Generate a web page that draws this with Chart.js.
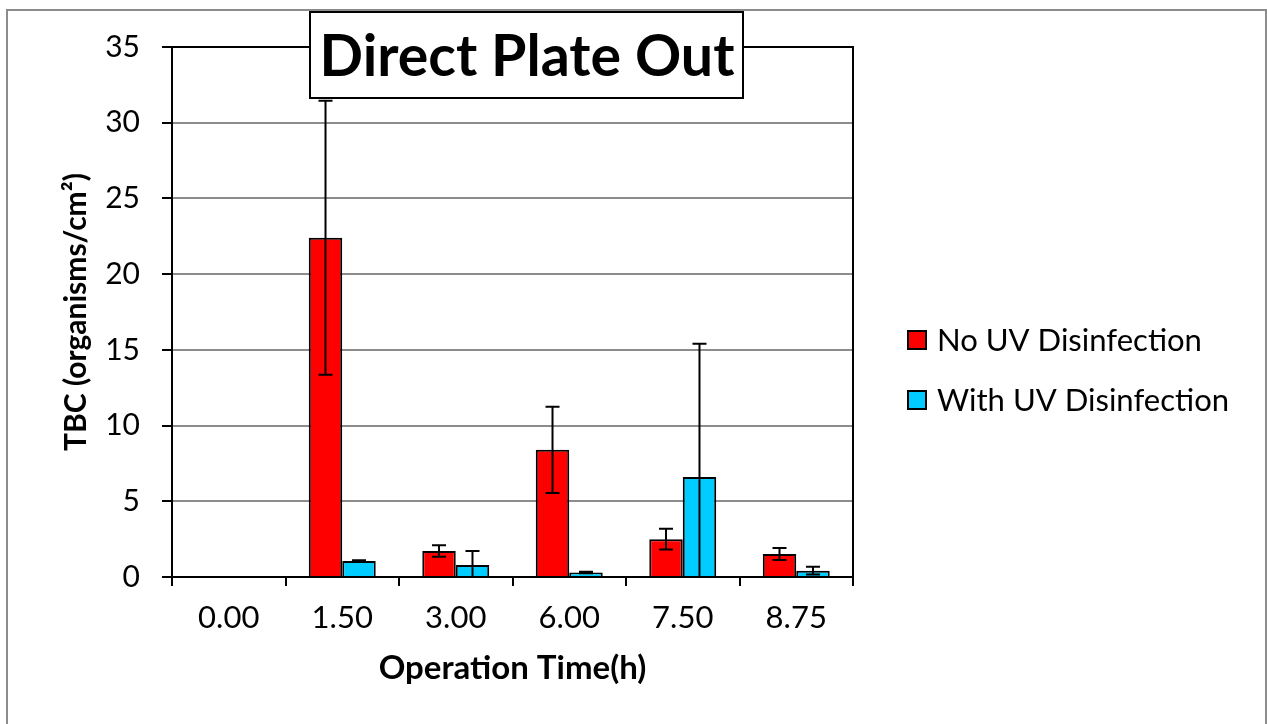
<!DOCTYPE html>
<html>
<head>
<meta charset="utf-8">
<script src="https://cdn.jsdelivr.net/npm/chart.js@4.4.0/dist/chart.umd.min.js"></script>
<style>
  body { margin: 0; background: #fff; }
</style>
</head>
<body>
<canvas id="myChart" width="1267" height="724"></canvas>
<script>
const ctx = document.getElementById('myChart');

// data
const categories = ['0.00', '1.50', '3.00', '6.00', '7.50', '8.75'];
const noUV = [0, 22.4, 1.72, 8.4, 2.5, 1.52];
const noUVErr = [0, 9.05, 0.38, 2.85, 0.69, 0.4];
const withUV = [0, 1.05, 0.79, 0.3, 6.6, 0.42];
const withUVErr = [0, 0.05, 0.93, 0.05, 8.8, 0.26];
const yMax = 35;
const yStep = 5;

const FONT = 'Lato';

// white page + gray outer frame
const frame = {
  id: 'frame',
  beforeDraw(chart) {
    const c = chart.ctx;
    c.save();
    c.fillStyle = '#fff';
    c.fillRect(0, 0, chart.width, chart.height);
    c.strokeStyle = '#8c8c8c';
    c.lineWidth = 2;
    c.strokeRect(7, 10, 1259, 740);
    c.restore();
  },
  beforeDatasetsDraw(chart) {
    const a = chart.chartArea;
    const c = chart.ctx;
    c.save();
    c.strokeStyle = '#000';
    c.lineWidth = 2;
    c.strokeRect(a.left, a.top, a.right - a.left, a.bottom - a.top);
    c.restore();
  }
};

// error bars, drawn over the bars
const errorBars = {
  id: 'errorBars',
  afterDatasetsDraw(chart) {
    const c = chart.ctx;
    const y = chart.scales.y;
    c.save();
    c.strokeStyle = '#000';
    c.lineWidth = 2;
    chart.data.datasets.forEach((ds, i) => {
      const meta = chart.getDatasetMeta(i);
      meta.data.forEach((bar, j) => {
        const e = ds.errors[j];
        if (!e) return;
        const v = ds.data[j];
        const top = y.getPixelForValue(v + e);
        const bot = y.getPixelForValue(Math.max(0, v - e));
        c.beginPath();
        c.moveTo(bar.x, top);
        c.lineTo(bar.x, bot);
        c.moveTo(bar.x - 7, top);
        c.lineTo(bar.x + 7, top);
        if (v - e > 0) {
          c.moveTo(bar.x - 7, bot);
          c.lineTo(bar.x + 7, bot);
        }
        c.stroke();
      });
    });
    c.restore();
  }
};

// boxed title and right-side legend
const boxes = {
  id: 'boxes',
  afterDraw(chart) {
    const c = chart.ctx;
    c.save();
    c.fillStyle = '#fff';
    c.fillRect(310, 12, 433, 86);
    c.strokeStyle = '#000';
    c.lineWidth = 2;
    c.strokeRect(310, 12, 433, 86);
    const title = 'Direct Plate Out';
    c.font = 'bold 100px ' + FONT;
    let size = 100 * 415 / c.measureText(title).width;
    c.font = 'bold ' + size + 'px ' + FONT;
    c.fillStyle = '#000';
    c.textAlign = 'center';
    c.textBaseline = 'middle';
    c.fillText(title, 527, 58);

    c.font = '100px ' + FONT;
    let ls = 100 * 265 / c.measureText('No UV Disinfection').width;
    c.font = ls + 'px ' + FONT;
    c.textAlign = 'left';
    chart.data.datasets.forEach((ds, i) => {
      const cy = 340 + i * 60;
      c.fillStyle = ds.backgroundColor;
      c.fillRect(908, cy - 9, 18, 18);
      c.strokeStyle = '#000';
      c.lineWidth = 2;
      c.strokeRect(908, cy - 9, 18, 18);
      c.fillStyle = '#000';
      c.fillText(ds.label, 937, cy + 1);
    });
    c.restore();
  }
};

new Chart(ctx, {
  type: 'bar',
  data: {
    labels: categories,
    datasets: [
      {
        label: 'No UV Disinfection',
        data: noUV,
        errors: noUVErr,
        backgroundColor: '#ff0000',
        borderColor: '#000',
        borderWidth: 2,
        categoryPercentage: 0.59,
        barPercentage: 1
      },
      {
        label: 'With UV Disinfection',
        data: withUV,
        errors: withUVErr,
        backgroundColor: '#00ccff',
        borderColor: '#000',
        borderWidth: 2,
        categoryPercentage: 0.59,
        barPercentage: 1
      }
    ]
  },
  options: {
    responsive: false,
    animation: false,
    layout: { padding: { top: 47, right: 414, bottom: 0, left: 0 } },
    plugins: {
      legend: { display: false },
      tooltip: { enabled: false }
    },
    scales: {
      x: {
        afterFit(s) { s.height = 147; },
        grid: { drawOnChartArea: false, color: '#000', tickLength: 9, lineWidth: 2 },
        border: { color: '#000', width: 2 },
        ticks: { color: '#000', font: { family: FONT, size: 31 }, padding: 13 },
        title: {
          display: true,
          text: 'Operation Time(h)',
          color: '#000',
          font: { family: FONT, size: 33, weight: 'bold' },
          padding: { top: 0, bottom: 36 }
        }
      },
      y: {
        min: 0,
        max: yMax,
        afterFit(s) { s.width = 172; },
        grid: {
          color: (c) => c.tick && c.tick.value === yMax ? '#000' : '#8c8c8c',
          lineWidth: 2,
          tickLength: 10,
          tickColor: '#000'
        },
        border: { color: '#000', width: 2 },
        ticks: { stepSize: yStep, color: '#000', font: { family: FONT, size: 30 }, padding: 22 },
        title: {
          display: true,
          text: 'TBC (organisms/cm²)',
          color: '#000',
          font: { family: FONT, size: 30, weight: 'bold' },
          padding: { top: 58, bottom: 0 }
        }
      }
    }
  },
  plugins: [frame, errorBars, boxes]
});
</script>
</body>
</html>
